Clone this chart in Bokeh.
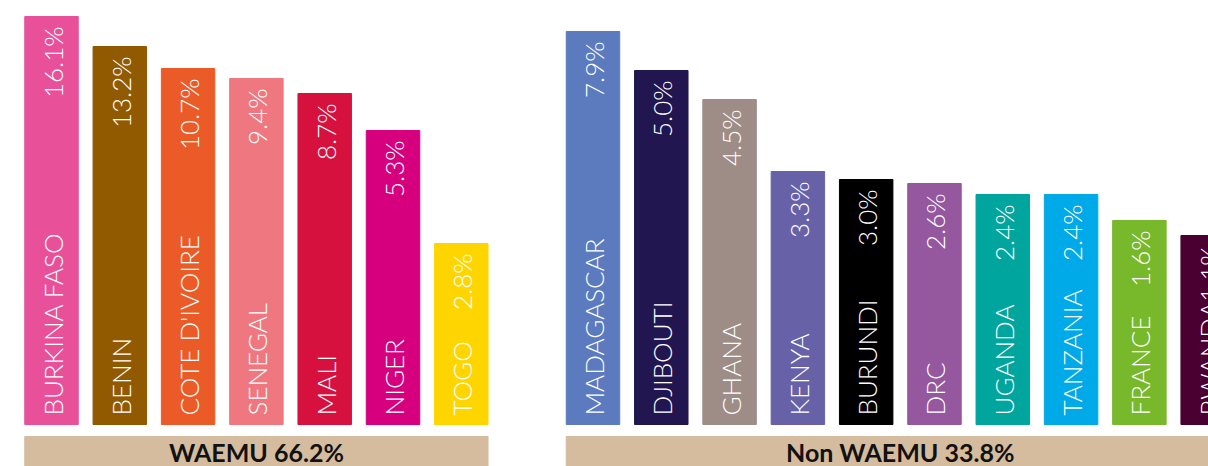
import math
from bokeh.plotting import figure
from bokeh.models import ColumnDataSource, Range1d
from bokeh.core.properties import value
from bokeh.embed import file_html
from bokeh.resources import INLINE

# ---- data -------------------------------------------------------------
waemu_countries = ["BURKINA FASO", "BENIN", "COTE D'IVOIRE", "SENEGAL", "MALI", "NIGER", "TOGO"]
waemu_share = ["16.1%", "13.2%", "10.7%", "9.4%", "8.7%", "5.3%", "2.8%"]
# visual bar heights (the infographic is not drawn to scale)
waemu_bar_height = [408, 378, 356, 346, 331, 294, 181]
waemu_colors = ["#E8519A", "#925A00", "#EB5B28", "#EF7880", "#D7113E", "#D6007F", "#FFD500"]

non_countries = ["MADAGASCAR", "DJIBOUTI", "GHANA", "KENYA", "BURUNDI", "DRC",
                 "UGANDA", "TANZANIA", "FRANCE", "RWANDA"]
non_share = ["7.9%", "5.0%", "4.5%", "3.3%", "3.0%", "2.6%", "2.4%", "2.4%", "1.6%", "1.1%"]
non_bar_height = [393, 354, 325, 253, 245, 241, 230, 230, 204, 189]
non_colors = ["#5B7BBE", "#21164F", "#9E8C86", "#6762A8", "#000000", "#95579D",
              "#00A59E", "#00A9E7", "#78B82B", "#4A0031"]

group_labels = ["WAEMU 66.2%", "Non WAEMU 33.8%"]
band_color = "#D5BC9E"

# ---- layout constants --------------------------------------------------
W, H = 1208, 466
PITCH = 68.3              # px per category slot
BAR_W = 0.783
GROUP_GAP = 1.928
X0 = -51 / PITCH
X1 = X0 + W / PITCH
Y1 = 424
Y0 = Y1 - H
BAND_TOP = -12

xs_left = [i for i in range(len(waemu_countries))]
xs_right = [len(waemu_countries) - 1 + GROUP_GAP + j for j in range(len(non_countries))]

src = ColumnDataSource(dict(
    x=xs_left + xs_right,
    top=waemu_bar_height + non_bar_height,
    color=waemu_colors + non_colors,
    name=waemu_countries + non_countries,
    share=waemu_share + non_share,
))

p = figure(width=W, height=H, output_backend="svg", toolbar_location=None,
           x_range=Range1d(X0, X1), y_range=Range1d(Y0, Y1),
           min_border=0, outline_line_color=None)
p.axis.visible = False
p.grid.visible = False
p.background_fill_color = "white"
p.border_fill_color = "white"

p.vbar(x="x", top="top", bottom=0, width=BAR_W, color="color", source=src)

FONT = value("Lato Light")
p.text(x="x", y=0, text="name", source=src, angle=math.pi / 2,
       text_align="left", text_baseline="alphabetic", x_offset=1, y_offset=-9,
       text_color="white", text_font=FONT, text_font_size="26px")
p.text(x="x", y="top", text="share", source=src, angle=math.pi / 2,
       text_align="right", text_baseline="alphabetic", x_offset=1, y_offset=10,
       text_color="white", text_font=FONT, text_font_size="26px")

# group bands
band_left = [xs_left[0] - BAR_W / 2, xs_right[0] - BAR_W / 2]
band_right = [xs_left[-1] + BAR_W / 2, X1 + 1]
band_center = [(xs_left[0] + xs_left[-1]) / 2, (xs_right[0] + xs_right[-1]) / 2]
bsrc = ColumnDataSource(dict(left=band_left, right=band_right, c=band_center, label=group_labels))
p.quad(left="left", right="right", bottom=Y0 - 10, top=BAND_TOP, color=band_color, source=bsrc)
p.text(x="c", y=-27, text="label", source=bsrc, text_align="center",
       text_baseline="middle", text_color="#111111",
       text_font=value("Lato"), text_font_style="bold", text_font_size="25px")

open("out.html", "w").write(file_html(p, INLINE))
